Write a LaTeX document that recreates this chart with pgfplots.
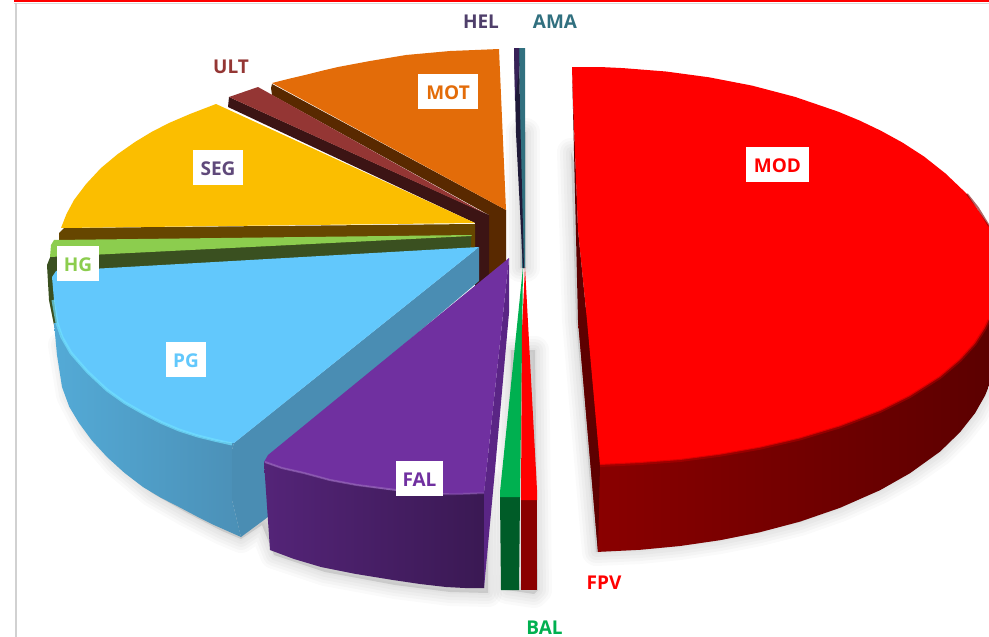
\documentclass[border=0pt]{standalone}
\usepackage{fontspec}
\setmainfont{Open Sans}
\usepackage{pgfplots}
\pgfplotsset{compat=1.18}
\definecolor{cOrange}{HTML}{E36C09}
\definecolor{cOrangeD}{HTML}{592900}
\definecolor{cUlt}{HTML}{943634}
\definecolor{cUltD}{HTML}{3C1414}
\definecolor{cGold}{HTML}{FBBE00}
\definecolor{cGoldD}{HTML}{664600}
\definecolor{cHg}{HTML}{8CCD4E}
\definecolor{cHgD}{HTML}{3A5020}
\definecolor{cBlue}{HTML}{62C8FC}
\definecolor{cBlueD}{HTML}{4A8DB3}
\definecolor{cBlueH}{HTML}{70E0FF}
\definecolor{cPur}{HTML}{7030A0}
\definecolor{cPurS}{HTML}{5A2585}
\definecolor{cGreen}{HTML}{00B050}
\definecolor{cGreenD}{HTML}{005C28}
\definecolor{cHel}{HTML}{1F1A38}
\definecolor{cHelT}{HTML}{4F3F6B}
\definecolor{cSegT}{HTML}{5F497A}
\definecolor{cAma}{HTML}{31707F}
\newcommand{\soft}[1]{%
  \addplot[draw=black,opacity=.02,line width=28pt,line join=round,line cap=round] coordinates {#1};
  \addplot[draw=black,opacity=.025,line width=22pt,line join=round,line cap=round] coordinates {#1};
  \addplot[draw=black,opacity=.025,line width=16pt,line join=round,line cap=round] coordinates {#1};
  \addplot[draw=black,opacity=.025,line width=10pt,line join=round,line cap=round] coordinates {#1};
  \addplot[draw=black,opacity=.02,line width=4pt,line join=round,line cap=round] coordinates {#1};
  \addplot[fill=black,draw=none,opacity=.11] coordinates {#1};
}
\newcommand{\tagbox}[6]{% x y w h text color
  \node[fill=white,inner sep=0pt,minimum width=#3pt,minimum height=#4pt,text=#6,font=\fontsize{19}{23}\selectfont\bfseries] at (axis cs:#1,#2) {\raisebox{-8pt}[10pt][10pt]{#5}};
}
\tikzset{outer/.style={inner sep=0pt,anchor=base,font=\fontsize{19}{23}\selectfont\bfseries}}
\begin{document}
\begin{tikzpicture}
\begin{axis}[scale only axis,width=989pt,height=637pt,xmin=0,xmax=989,ymin=0,ymax=637,y dir=reverse,axis lines=none,clip=true]
% frame
\addplot[fill=white,draw=none] coordinates {(0,0)(989,0)(989,637)(0,637)};
\addplot[fill=red,draw=none] coordinates {(14,0)(989,0)(989,2)(14,2)};
\addplot[draw=black!15,line width=1pt] coordinates {(14,3.5)(989,3.5)};
\addplot[draw=black!18,line width=1.5pt] coordinates {(16,3)(16,637)};
% shadows
\soft{(62,345)(70,395)(88,430)(116,463)(152,493)(187,513)(222,531)(241,539)(262,525)(274,555)(325,572)(395,585)(450,592)(488,593)(488,480)(300,400)(62,345)}
\soft{(511,350)(507,590)(534,594)(538,590)(535,350)(511,350)}
\soft{(520,132)(526,132)(526,268)(520,268)(520,132)}
\soft{(571,152)(576,320)(596,552)(640,550)(680,546)(720,540)(760,532)(800,522)(840,508)(880,490)(910,473)(940,452)(960,432)(975,413)(989,386)(989,300)(620,300)(571,152)}
% HEL, AMA
\addplot[fill=cAma,draw=none] coordinates {(519,48)(525,48)(525,268)(522,268)};
\addplot[fill=cHel,draw=none] coordinates {(514,48)(519,48)(520,110)(524,268)(523,268)(516,133)};
\addplot[fill=cHel!70!cPur,draw=none] coordinates {(514,48)(519,48)(519,70)(515,100)};
% MOT
\addplot[fill=cOrangeD,draw=none] coordinates {(272,84)(271,88)(272,95)(489,215)(489,285)(506,265)(506,210)};
\addplot[fill=cOrange,draw=none] coordinates {(499,49)(475,50)(450,51)(428,53)(406,55)(388,58)(370,61)(354,64)(338,67)(321,71)(305,75)(288,79)(272,83)(506,210)};
% ULT
\addplot[fill=cUltD,draw=none] coordinates {(229,97)(228,107)(475,223)(475,295)(489,285)(489,215)};
\addplot[fill=cUlt,draw=none] coordinates {(258,87)(229,97)(484,213)};
% SEG
\addplot[fill=cGoldD,draw=none] coordinates {(64,228)(475,224)(475,250)(59,240)(59,233)};
\addplot[fill=cGold,draw=none] coordinates {(216,104)(190,114)(169,123)(151.5,132)(135,142)(117.6,154.2)(101,168)(86.2,183.9)(74,200)(66.5,214)(61,228)(475,223)};
% HG
\addplot[fill=cHgD,draw=none] coordinates {(471,236)(51,255)(47,265)(49,300)(54,325)(60,340)(471,250)};
\addplot[fill=cHg,draw=none] coordinates {(54,240)(472,235)(471,236)(50,257)(51,245)};
% PG
\addplot[shade,left color=cBlue!85!black,right color=cBlueD!95!cBlue,draw=none] coordinates {(54,323)(57,355)(62,387)(69.3,406.9)(79,423)(91.8,440.4)(107,457)(124.5,472.9)(143,487)(161,497.8)(179,507)(197,516.5)(214,525)(241,537)(232,500)(232,450)(234,443)(224,442)(214,440)(197.5,435.9)(179,430)(161,422.3)(143,413)(125,402.8)(107,390)(87.6,371.9)(71,353)(61.9,337.1)(57,323)};
\addplot[fill=cBlueD,draw=none] coordinates {(479,247)(479,281)(266,461)(268,517)(241,537)(232,500)(232,450)(234,443)};
\addplot[fill=cBlue,draw=none] coordinates {(479,247)(56,271)(52,277)(54,300)(57,323)(61.9,337.1)(71,353)(87.6,371.9)(107,390)(125,402.8)(143,413)(161,422.3)(179,430)(197.5,435.9)(214,440)(224,442)(234,443)};
\addplot[draw=cBlueH,line width=3pt,opacity=.7] coordinates {(53,300)(57,323)(61.9,337.1)(71,353)(87.6,371.9)(107,390)(125,402.8)(143,413)(161,422.3)(179,430)(197.5,435.9)(214,440)(232,444)};
% FAL
\addplot[shade,left color=cPur!75!black,right color=cPur!52!black,draw=none] coordinates {(264,462)(270,550)(294,559)(321,567)(356,574)(393,580)(420,584)(446,587)(465,588)(484,588)(484,493)(456,494)(429,493)(392,490)(357,485)(330,480)(304,473)(282,468)};
\addplot[fill=cPurS,draw=none] coordinates {(509,258)(509,313)(495,470)(484,588)(484,493)};
\addplot[fill=cPur,draw=none] coordinates {(509,258)(268,455)(264,462)(282,468)(304,473)(330,480)(357,485)(392,490)(429,493)(456,494)(484,493)};
\addplot[draw=cPur!75!white,line width=2pt,opacity=.7] coordinates {(265,462)(282,468)(304,473)(330,480)(357,485)(396,490)};
\addplot[draw=cPur!85!white,line width=2pt,opacity=.6] coordinates {(443,494)(456,494)(484,493)};
% BAL
\addplot[fill=cGreenD,draw=none] coordinates {(500,497)(520,497)(519,590)(501,590)};
\addplot[fill=cGreen,draw=none] coordinates {(523,267)(520,497)(500,497)(500,492)};
% FPV
\addplot[fill=red!54!black,draw=none] coordinates {(521,500)(537,500)(537,590)(521,590)};
\addplot[fill=red,draw=none] coordinates {(525,267)(522,330)(521,500)(537,500)(537,490)};
% MOD
\addplot[shade,left color=red!55!black,middle color=red!38!black,right color=red!36!black,draw=none] coordinates {(578,320)(598,552)(600,551.8)(640,549.8)(680,546)(720,540.2)(760,532.2)(800,521.6)(840,507.8)(880,490.2)(910,473.2)(940,451.6)(960,432.2)(975,413.2)(985,395.6)(989,385.8)(989,300)(600,300)};
\addplot[fill=red!37!black,draw=none] coordinates {(572,67)(578,320)(598,552)(600,465)(587,320)(578,230)};
\addplot[fill=red,draw=none] coordinates {(572,67)(600,67)(623,68.1)(666,71.5)(709,77.3)(752,85.6)(795,96.9)(838,111.6)(859.5,120.5)(881,130.8)(902.5,142.6)(924,156.5)(945.5,173.5)(967,194)(989,226)(989,319.6)(985,328)(975,343.6)(960,360)(940,377)(910,396)(880,411)(840,426.3)(800,438.4)(760,447.7)(720,454.7)(680,460)(640,463)(600,465)(587,320)(578,230)(573,100)};
\addplot[draw=red!72!black,line width=3pt,opacity=.5] coordinates {(600,465.5)(640,463.5)(680,460.5)(720,455.2)(760,448.2)(800,438.9)(840,426.8)(880,411.5)(910,396.5)(940,377.5)(960,360.5)(975,344)(985,328.5)(989,320)};
\addplot[draw=red!50!black,line width=2pt,opacity=.6] coordinates {(967,194)(978,208)(989,226)};
% labels
\tagbox{448}{91.5}{60}{35}{MOT}{cOrange}
\tagbox{218}{167.5}{50}{35}{SEG}{cSegT}
\tagbox{78}{263.5}{42}{35}{HG}{cHg}
\tagbox{186}{359.5}{40}{35}{PG}{cBlue}
\tagbox{419.5}{478.5}{47}{35}{FAL}{cPur}
\tagbox{777.5}{164.5}{63}{35}{MOD}{red}
\node[outer,text=cHelT] at (axis cs:481,28) {HEL};
\node[outer,text=cAma] at (axis cs:555,28) {AMA};
\node[outer,text=cUlt] at (axis cs:231,73) {ULT};
\node[outer,text=red] at (axis cs:604,589) {FPV};
\node[outer,text=cGreen] at (axis cs:544.5,634.5) {BAL};
\end{axis}
\end{tikzpicture}
\end{document}
